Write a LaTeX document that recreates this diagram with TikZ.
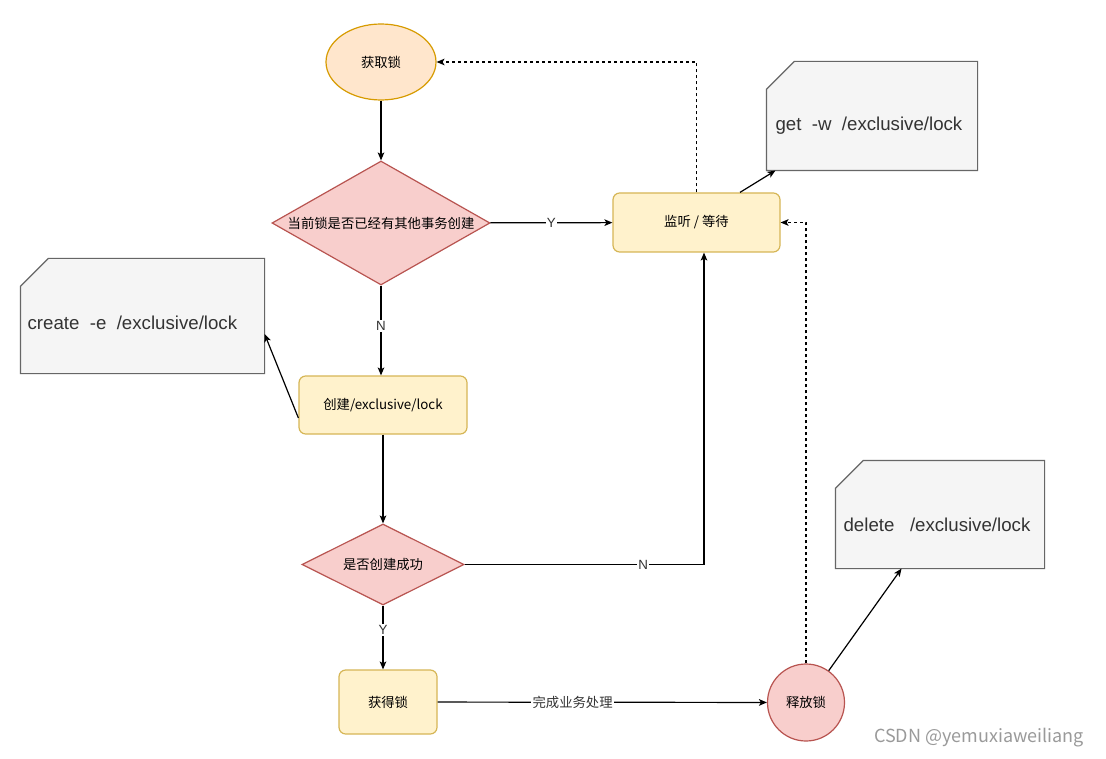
\documentclass[tikz,border=0pt]{standalone}
\usepackage{fontspec}
\setmainfont{Liberation Sans}
\newfontfamily\cjk{Noto Sans CJK SC}
\usetikzlibrary{shapes.geometric,arrows.meta,calc}

\definecolor{orangefill}{HTML}{FFE6CC}
\definecolor{orangeline}{HTML}{D79B00}
\definecolor{redfill}{HTML}{F8CECC}
\definecolor{redline}{HTML}{B85450}
\definecolor{yellowfill}{HTML}{FFF2CC}
\definecolor{yellowline}{HTML}{D6B656}
\definecolor{notefill}{HTML}{F5F5F5}
\definecolor{noteline}{HTML}{666666}
\definecolor{notetext}{HTML}{333333}
\definecolor{marktext}{HTML}{9A9A9A}

\begin{document}
\begin{tikzpicture}[x=0.75pt, y=-0.75pt, line width=0.9pt,
      start/.style = {draw=orangeline, fill=orangefill, ellipse, minimum width=82.5pt, minimum height=57pt, font=\cjk\fontsize{10}{12}\selectfont},
      decision/.style = {draw=redline, fill=redfill, diamond, inner sep=0pt, font=\cjk\fontsize{10}{12}\selectfont},
      process/.style = {draw=yellowline, fill=yellowfill, rounded corners=5pt, font=\cjk\fontsize{10}{12}\selectfont},
      stop/.style = {draw=redline, fill=redfill, circle, minimum size=57.75pt, inner sep=0pt, font=\cjk\fontsize{10}{12}\selectfont},
      note/.style = {rectangle, inner sep=0pt},
      noteline/.style = {draw=noteline, fill=notefill},
      notelabel/.style = {anchor=west, inner sep=0pt, text=notetext, font=\fontsize{14}{16}\selectfont},
      arr/.style = {-{Stealth[length=6pt, width=5pt, inset=1.5pt]}},
      dotarr/.style = {arr, dash pattern=on 2.25pt off 2.25pt},
      lbl/.style = {fill=white, inner sep=1pt, text=notetext, font=\fontsize{10}{11}\selectfont}]
    \path[use as bounding box, fill=white] (0,0) rectangle (1106,759);

    % nodes
    \node[start] (lock) at (381, 62) {获取锁};
    \node[decision, shape aspect=1.76, minimum width=163.5pt, minimum height=93pt] (exists) at (381, 223) {当前锁是否已经有其他事务创建};
    \node[process, minimum width=125.25pt, minimum height=44.25pt] (wait) at (696.5, 222.5) {监听 / 等待};
    \node[process, minimum width=126pt, minimum height=43.5pt] (create) at (383, 405) {创建/exclusive/lock};
    \node[decision, shape aspect=2, minimum width=121.5pt, minimum height=60.75pt] (success) at (383, 564.5) {是否创建成功};
    \node[process, minimum width=73.5pt, minimum height=48pt] (gotlock) at (388, 702) {获得锁};
    \node[stop] (release) at (806, 702.5) {释放锁};

    % notes
    \node[note, minimum width=157.5pt, minimum height=81pt] (getnote) at (872, 116) {};
    \node[note, minimum width=182.25pt, minimum height=85.5pt] (createnote) at (142.5, 316) {};
    \node[note, minimum width=156pt, minimum height=80.25pt] (deletenote) at (940, 514.5) {};
    \foreach \n in {getnote, createnote, deletenote}
      \draw[noteline] ($(\n.north west)+(0,28)$) -- ($(\n.north west)+(28,0)$)
        -- (\n.north east) -- (\n.south east) -- (\n.south west) -- cycle;
    \node[notelabel] (gettext) at (775, 126) {get\ \ -w\ \ /exclusive/lock};
    \node[notelabel] (createtext) at (27, 323) {create\ \ -e\ \ /exclusive/lock};
    \node[notelabel] (deletetext) at (843, 525) {delete\ \ \ /exclusive/lock};

    % edges
    \draw[arr] (lock) -- (exists);
    \draw[arr] (exists) -- node[lbl] {Y} (wait);
    \draw[arr] (exists.south) -- node[lbl, pos=.45] {N} (exists.south |- create.north);
    \draw[arr] ($(create.west)+(0,13)$) -- ($(createnote.east)+(0,18)$);
    \draw[arr] (create.south) -- (create.south |- success.north);
    \draw[arr] (success.east) -| node[lbl, pos=.373] {N} ($(wait.south)+(7.5,0)$);
    \draw[arr] (success.south) -- node[lbl, pos=.38] {Y} (success.south |- gotlock.north);
    \draw[arr] (gotlock) -- node[lbl, pos=.41, font=\cjk\fontsize{10}{12}\selectfont] {完成业务处理} (release);
    \draw[arr] ($(wait.north)+(43.5,0)$) -- ($(getnote.south west)+(9,0)$);
    \draw[arr] (release) -- (deletenote);

    % dotted edges
    \draw[dotarr] (wait.north) |- (lock.east);
    \draw[dotarr] (release.north) |- (wait.east);

    \node[text=marktext, font=\cjk\fontsize{13.5}{15}\selectfont] (mark) at (979, 738) {CSDN @yemuxiaweiliang};
  \end{tikzpicture}
\end{document}
